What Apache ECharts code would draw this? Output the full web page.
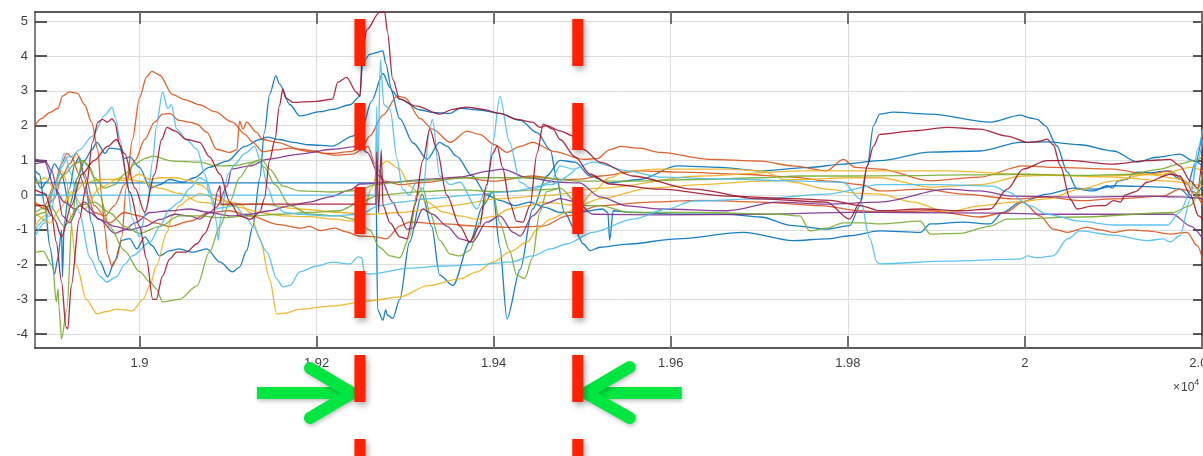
<!DOCTYPE html>
<html><head><meta charset="utf-8">
<script src="https://cdn.jsdelivr.net/npm/echarts@6/dist/echarts.min.js"></script>
<style>html,body{margin:0;padding:0;background:#fff;overflow:hidden}#c{width:1203px;height:456px}</style>
</head><body><div id="c"></div>
<script>
const xTicks = [19000,19200,19400,19600,19800,20000,20200];
const yTicks = [-4,-3,-2,-1,0,1,2,3,4,5];
const markerX = [19249, 19495];

const blueA = [[18882,0.7],[18887,0.6],[18893,-0.3],[18899,-1.5],[18904,-2.27],[18908,-1.8],[18912,-1.0],[18913,-2.35],[18915,-0.8],[18921,0.2],[18927,0.9],[18932,1.1],[18938,0.5],[18946,-0.8],[18955,-1.9],[18964,-2.35],[18972,-1.9],[18980,-1.3],[18989,-1.25],[18997,-1.55],[19006,-1.2],[19014,-1.45],[19023,-1.75],[19034,-1.6],[19045,-1.55],[19060,-1.64],[19076,-1.55],[19091,-1.93],[19105,-2.21],[19113,-2.07],[19121,-1.6],[19128,-0.9],[19136,0.5],[19141,1.8],[19147,2.9],[19154,3.43],[19158,3.2],[19170,2.6],[19181,2.28],[19204,2.4],[19218,2.47],[19238,2.6],[19249,2.85],[19252,3.8],[19260,4.05],[19275,4.15],[19278,3.8],[19285,3.0],[19294,2.76],[19317,2.45],[19331,2.38],[19351,2.35],[19362,2.5],[19384,2.45],[19407,2.35],[19430,2.15],[19449,1.8],[19464,1.3],[19471,0.5],[19480,-0.5],[19492,-1.0],[19501,-1.4],[19509,-1.6],[19520,-1.5],[19551,-1.41],[19607,-1.26],[19682,-1.07],[19738,-1.31],[19776,-1.26],[19802,-1.17],[19836,-1.03],[19882,-1.07],[19893,-0.83],[19930,-0.78],[19961,-0.83],[19975,-0.5],[19995,-0.2],[20025,0.03],[20055,0.2],[20082,0.17],[20100,0.27],[20156,0.23],[20175,0.17],[20189,-0.1],[20201,0.3]];
const blueB = [[18882,0.35],[19267,0.35],[19269,-3.3],[19275,-3.6],[19278,-3.3],[19280,-3.45],[19286,-3.55],[19294,-3.0],[19305,-1.35],[19319,0.03],[19330,-0.9],[19339,-2.3],[19354,-2.6],[19373,-1.35],[19388,-0.3],[19399,0.09],[19407,-1.5],[19415,-3.56],[19430,-2.13],[19444,-0.4],[19460,0.55],[19475,1.0],[19492,0.95],[19509,0.55],[19531,0.35],[19565,0.45],[19607,0.84],[19656,0.8],[19701,0.7],[19757,0.8],[19795,0.89],[19836,0.99],[19893,1.24],[19949,1.27],[19995,1.52],[20025,1.53],[20062,1.45],[20100,1.27],[20127,0.95],[20149,1.09],[20175,1.18],[20189,1.0],[20201,0.84]];
const blueC = [[18882,0.55],[18889,0.2],[18896,0.4],[18904,0.9],[18912,0.6],[18921,-0.3],[18930,0.5],[18938,1.0],[18946,1.3],[18952,1.52],[18961,1.2],[18966,1.35],[18978,1.32],[18983,1.05],[18989,1.1],[19000,0.8],[19012,0.2],[19023,0.3],[19034,0.45],[19049,0.37],[19062,0.5],[19079,0.8],[19099,0.98],[19119,1.4],[19136,1.6],[19144,1.67],[19158,1.6],[19173,1.52],[19192,1.45],[19218,1.41],[19241,1.7],[19252,1.98],[19262,2.7],[19275,3.5],[19283,3.1],[19294,2.2],[19309,1.5],[19325,1.03],[19339,1.52],[19347,1.41],[19358,1.12],[19376,0.55],[19392,0.0],[19407,-0.15],[19424,-0.3],[19441,-0.2],[19458,-0.35],[19475,-0.5],[19497,-0.49],[19523,-0.4],[19529,-0.5],[19531,-1.3],[19535,-0.45],[19551,-0.49],[19607,-0.55],[19664,-0.55],[19701,-0.63],[19738,-0.88],[19776,-0.98],[19802,-0.88],[19814,-0.3],[19822,0.84],[19829,2.0],[19836,2.33],[19851,2.39],[19893,2.33],[19961,2.1],[19995,2.3],[20006,2.22],[20014,2.18],[20023,2.0],[20036,1.42],[20048,0.66],[20059,0.17],[20077,0.12],[20093,0.27],[20099,0.2],[20105,0.4],[20116,0.46],[20121,0.6],[20127,0.66],[20142,0.65],[20161,0.7],[20175,0.46],[20184,0.3],[20192,0.9],[20201,1.9]];
const orangeA = [[18882,2.0],[18889,2.2],[18899,2.38],[18908,2.5],[18913,2.85],[18921,2.97],[18930,2.93],[18938,2.6],[18946,2.1],[18953,1.3],[18957,0.0],[18961,-1.0],[18964,-1.7],[18969,-2.05],[18974,-1.85],[18980,-1.2],[18985,0.2],[18992,1.6],[19000,2.8],[19008,3.4],[19014,3.56],[19023,3.45],[19037,2.9],[19051,2.75],[19068,2.6],[19085,2.4],[19105,2.1],[19119,1.75],[19128,1.52],[19139,1.25],[19153,1.3],[19170,1.35],[19192,1.25],[19215,1.2],[19238,1.25],[19251,1.35],[19260,1.7],[19275,2.3],[19291,2.85],[19300,2.8],[19317,2.2],[19331,1.9],[19351,1.52],[19370,1.84],[19384,1.75],[19401,1.45],[19415,1.23],[19430,1.4],[19444,1.52],[19469,1.25],[19501,1.03],[19517,1.05],[19531,1.3],[19543,1.4],[19565,1.35],[19588,1.23],[19644,1.03],[19701,0.98],[19738,0.84],[19776,0.7],[19795,1.03],[19808,0.8],[19836,0.75],[19893,0.41],[19949,0.52],[19998,0.84],[20032,0.8],[20100,0.75],[20138,0.6],[20164,0.7],[20181,0.4],[20192,0.0],[20201,-0.3]];
const orangeB = [[18882,-0.2],[18893,-0.4],[18904,-0.1],[18912,0.5],[18921,0.9],[18929,1.2],[18938,0.6],[18949,-0.3],[18966,-0.8],[18983,-0.5],[19000,-0.6],[19017,-0.8],[19034,-0.9],[19057,-0.75],[19079,-0.5],[19102,-0.45],[19125,-0.6],[19158,-0.85],[19181,-0.95],[19192,-0.9],[19204,-1.02],[19221,-0.95],[19232,-1.05],[19249,-1.18],[19266,-1.2],[19279,-1.26],[19294,-0.89],[19305,-0.78],[19343,-0.83],[19381,-0.89],[19418,-0.93],[19456,-0.89],[19483,-0.6],[19520,-0.3],[19577,-0.2],[19633,-0.15],[19701,-0.2],[19769,-0.3],[19814,-0.45],[19836,-0.49],[19893,-0.45],[19949,-0.63],[19978,-0.5],[19998,-0.2],[20017,-0.6],[20032,-0.98],[20048,-1.07],[20070,-0.93],[20085,-1.0],[20100,-1.07],[20119,-1.0],[20138,-1.03],[20164,-1.12],[20183,-1.07],[20195,-1.46],[20201,-1.9]];
const orangeC = [[18882,-0.25],[18893,-0.3],[18904,0.3],[18912,0.9],[18918,1.2],[18923,1.1],[18932,0.6],[18941,0.0],[18949,-0.5],[18961,-0.6],[18972,-0.3],[18983,0.3],[18995,1.0],[19006,1.6],[19017,2.1],[19026,2.33],[19034,2.35],[19045,2.15],[19057,2.1],[19065,2.04],[19076,1.81],[19087,1.32],[19102,1.23],[19110,1.3],[19113,2.13],[19117,1.9],[19121,2.1],[19132,1.81],[19139,1.6],[19155,1.52],[19181,1.32],[19200,1.27],[19207,1.2],[19221,1.15],[19241,1.18],[19251,1.3],[19258,1.4],[19266,0.9],[19277,0.4],[19294,0.3],[19325,0.37],[19362,0.52],[19399,0.4],[19444,0.55],[19475,0.45],[19497,0.46],[19520,0.55],[19565,0.7],[19610,0.66],[19678,0.6],[19738,0.52],[19780,0.4],[19814,0.3],[19836,0.12],[19885,0.17],[19930,0.03],[19987,-0.11],[20025,-0.06],[20062,-0.16],[20100,-0.11],[20156,-0.03],[20175,0.17],[20190,0.1],[20201,-0.2]];
const yellowA = [[18882,-0.9],[18893,-0.6],[18904,0.3],[18912,0.7],[18918,0.4],[18921,-0.5],[18929,-2.04],[18940,-3.0],[18952,-3.42],[18963,-3.35],[18974,-3.28],[18992,-3.33],[19004,-3.0],[19012,-2.6],[19019,-2.04],[19031,-1.07],[19037,-0.6],[19045,-0.3],[19057,-0.1],[19068,0.05],[19091,-0.15],[19113,-0.35],[19136,-0.5],[19162,-0.6],[19192,-0.62],[19218,-0.69],[19243,-0.75],[19254,-0.4],[19262,0.2],[19271,0.84],[19279,0.98],[19294,0.75],[19305,0.26],[19325,-0.2],[19343,-0.49],[19362,-0.6],[19381,-0.69],[19399,-0.62],[19418,-0.4],[19438,-0.31],[19456,-0.2],[19497,-0.3],[19520,-0.1],[19577,0.2],[19633,0.3],[19701,0.4],[19746,0.45],[19802,0.5],[19836,0.5],[19893,0.23],[19949,0.3],[19998,0.55],[20025,0.57],[20100,0.52],[20156,0.41],[20201,0.26]];
const yellowB = [[18882,0.3],[18893,0.5],[18904,0.2],[18915,-0.2],[18927,0.1],[18938,0.35],[18955,0.45],[18972,0.45],[18985,0.42],[19000,0.6],[19012,0.45],[19023,0.5],[19040,0.5],[19057,0.42],[19068,0.3],[19085,0.0],[19102,-0.2],[19113,-0.25],[19125,-0.5],[19136,-1.26],[19147,-2.41],[19155,-3.42],[19164,-3.4],[19181,-3.28],[19218,-3.19],[19257,-3.05],[19294,-2.93],[19325,-2.61],[19362,-2.41],[19381,-2.21],[19399,-1.93],[19418,-1.64],[19438,-1.35],[19449,-0.98],[19464,-0.69],[19483,-0.49],[19497,-0.3],[19512,0.09],[19531,0.5],[19551,0.7],[19588,0.75],[19664,0.75],[19701,0.7],[19738,0.37],[19776,0.17],[19814,0.05],[19836,0.03],[19874,-0.2],[19912,-0.49],[19949,-0.31],[19987,-0.2],[20025,-0.11],[20062,0.17],[20100,0.41],[20138,0.6],[20175,0.46],[20192,0.2],[20201,-0.11]];
const yellowC = [[18882,-0.5],[18899,-0.8],[18910,-0.4],[18923,0.1],[18938,-0.4],[18955,0.2],[18978,0.5],[19000,0.4],[19023,0.2],[19045,0.05],[19068,-0.2],[19102,-0.3],[19136,-0.25],[19181,-0.4],[19226,-0.5],[19260,-0.55],[19294,-0.5],[19351,-0.3],[19407,-0.1],[19464,0.0],[19520,0.2],[19633,0.55],[19746,0.7],[19836,0.7],[19916,0.7],[19995,0.6],[20085,0.55],[20153,0.6],[20187,0.8],[20201,0.7]];
const purpleA = [[18882,1.03],[18893,1.0],[18901,0.7],[18908,0.0],[18913,-0.6],[18921,-0.8],[18932,-0.3],[18944,-0.5],[18955,-0.7],[18972,-0.9],[18989,-1.0],[19006,-0.9],[19023,-0.7],[19040,-0.55],[19057,-0.6],[19068,-0.69],[19079,-0.5],[19087,-0.35],[19099,0.26],[19104,0.75],[19125,0.84],[19144,1.03],[19181,1.18],[19218,1.32],[19249,1.41],[19257,1.23],[19271,0.55],[19286,-0.2],[19294,-0.6],[19302,-0.98],[19309,-0.95],[19320,-0.4],[19331,-0.55],[19347,-0.89],[19362,-1.26],[19376,-1.35],[19392,-0.78],[19407,-0.6],[19422,-1.07],[19430,-1.18],[19444,-0.6],[19458,-0.25],[19475,-0.1],[19494,-0.2],[19512,-0.55],[19588,-0.57],[19701,-0.55],[19814,-0.49],[19859,-0.5],[19972,-0.52],[20025,-0.55],[20085,-0.55],[20167,-0.55],[20187,-0.89],[20201,-1.26]];
const purpleB = [[18882,0.9],[18893,0.95],[18904,0.2],[18915,-0.2],[18927,-0.4],[18938,-0.2],[18955,-0.7],[18972,-1.1],[18983,-1.0],[18995,-0.8],[19012,-0.5],[19034,-0.45],[19057,-0.4],[19079,-0.5],[19102,-0.6],[19125,-0.55],[19147,-0.45],[19170,-0.3],[19192,-0.2],[19215,-0.05],[19238,0.15],[19249,0.32],[19286,0.37],[19325,0.46],[19362,0.52],[19396,0.7],[19410,0.75],[19438,0.5],[19475,0.37],[19497,0.35],[19520,-0.05],[19551,-0.31],[19588,-0.4],[19664,-0.45],[19720,-0.2],[19776,-0.26],[19836,-0.2],[19912,0.17],[19949,0.12],[19987,-0.03],[20062,-0.06],[20138,-0.03],[20175,-0.05],[20201,-0.1]];
const greenA = [[18882,-1.65],[18891,-1.61],[18902,-2.04],[18906,-3.07],[18908,-2.7],[18909,-3.2],[18912,-4.14],[18918,-3.28],[18924,-0.69],[18930,0.5],[18936,1.0],[18941,0.9],[18949,0.5],[18961,0.2],[18972,0.3],[18983,0.6],[18995,0.9],[19006,1.05],[19015,1.12],[19037,0.98],[19068,0.95],[19087,0.84],[19108,0.85],[19128,0.95],[19138,1.03],[19147,0.75],[19162,0.26],[19181,0.12],[19218,0.09],[19241,0.12],[19254,0.2],[19266,0.3],[19283,0.35],[19305,0.4],[19339,0.45],[19373,0.5],[19407,0.5],[19452,0.5],[19497,0.4],[19543,0.4],[19633,0.45],[19701,0.5],[19746,0.55],[19802,0.55],[19859,0.56],[19927,0.58],[19995,0.6],[20062,0.57],[20119,0.6],[20153,0.75],[20175,0.9],[20192,1.0],[20201,1.1]];
const greenB = [[18882,-0.6],[18893,-0.5],[18904,0.2],[18915,0.6],[18927,0.9],[18935,1.0],[18944,0.8],[18955,0.0],[18966,-0.9],[18983,-1.6],[19000,-2.2],[19012,-2.5],[19019,-2.7],[19026,-3.07],[19045,-3.0],[19065,-2.61],[19079,-1.64],[19091,-0.89],[19102,-0.2],[19113,0.5],[19125,0.9],[19134,1.0],[19141,0.8],[19153,0.3],[19170,-0.3],[19192,-0.55],[19226,-0.6],[19243,-0.7],[19260,-1.0],[19271,-1.5],[19283,-1.75],[19294,-1.8],[19305,-1.2],[19313,0.0],[19320,0.2],[19328,-0.5],[19339,-1.3],[19351,-1.7],[19362,-1.75],[19373,-1.6],[19384,-0.8],[19392,0.0],[19399,0.1],[19407,-0.8],[19418,-1.6],[19426,-2.3],[19435,-2.4],[19444,-1.8],[19452,-0.5],[19460,0.1],[19475,0.2],[19497,-0.3],[19520,-0.3],[19554,-0.5],[19633,-0.5],[19723,-0.55],[19746,-0.6],[19757,-1.03],[19776,-0.95],[19795,-0.8],[19817,-0.8],[19836,-0.83],[19882,-0.75],[19893,-1.12],[19927,-1.1],[19961,-0.89],[19980,-0.69],[20062,-0.63],[20167,-0.5],[20187,-0.3],[20201,0.6]];
const greenC = [[18882,-0.5],[18899,-0.3],[18915,-0.9],[18932,-0.3],[18949,-0.2],[18966,-0.5],[18983,-0.9],[19000,-1.1],[19023,-0.9],[19045,-0.6],[19068,-0.6],[19091,-0.65],[19125,-0.6],[19158,-0.55],[19192,-0.5],[19226,-0.45],[19249,-0.2],[19271,0.0],[19317,0.1],[19362,0.15],[19407,0.1],[19452,0.15],[19475,0.2]];
const lblueA = [[18882,0],[19266,0],[19268,2.55],[19269,0.3],[19272,3.9],[19276,2.6],[19283,2.47],[19291,1.03],[19297,0.17],[19305,0],[19313,0.4],[19320,0.1],[19328,1.98],[19331,2.18],[19339,0.55],[19351,0.3],[19362,0.37],[19381,-0.4],[19392,0.2],[19399,1.5],[19407,2.84],[19418,1.52],[19430,0.37],[19444,0.17],[19464,0.37],[19475,0.84],[19490,0.75],[19512,0.95],[19551,0.7],[19588,0.52],[19664,0.46],[19738,0.41],[19795,0.37],[19814,-0.11],[19825,-1.26],[19833,-1.93],[19836,-1.98],[19912,-1.9],[19995,-1.84],[20003,-1.75],[20014,-1.8],[20032,-1.75],[20048,-1.26],[20062,-1.03],[20100,-1.15],[20138,-1.31],[20156,-1.26],[20164,-1.35],[20175,-1.17],[20187,-0.11],[20195,1.32],[20201,1.9]];
const lblueB = [[18882,-1.2],[18893,-0.8],[18904,0.2],[18912,0.8],[18919,1.1],[18924,1.12],[18932,1.3],[18947,1.7],[18961,2.3],[18969,2.53],[18973,2.2],[18978,1.6],[18985,0.55],[18992,-0.69],[19000,-1.2],[19008,-0.4],[19015,1.0],[19019,1.98],[19026,2.96],[19032,2.5],[19036,2.6],[19042,1.9],[19053,1.6],[19065,1.32],[19074,0.6],[19079,0.0],[19085,-0.4],[19096,-0.35],[19108,-0.3],[19119,-0.6],[19128,-0.89],[19144,-1.64],[19155,-2.41],[19162,-2.64],[19170,-2.6],[19181,-2.21],[19200,-2.04],[19218,-1.93],[19238,-1.98],[19247,-1.78],[19251,-1.8],[19254,-2.25],[19260,-2.27],[19305,-2.1],[19343,-2.04],[19384,-2.0],[19418,-1.93],[19444,-1.75],[19464,-1.55],[19483,-1.4],[19512,-1.07],[19557,-0.69],[19596,-0.4],[19625,-0.17],[19701,-0.11],[19776,0.03],[19836,0.3],[19904,0.3],[19964,0.26],[19980,0.1],[20006,-0.31],[20025,-0.55],[20062,-0.75],[20100,-0.86],[20161,-0.86],[20175,-0.49],[20187,0.1],[20195,1.0],[20201,1.6]];
const lblueC = [[18882,-1.0],[18899,-0.6],[18908,0.5],[18915,1.2],[18923,0.6],[18932,-0.5],[18944,-1.8],[18955,-2.33],[18963,-2.5],[18974,-2.35],[18983,-2.0],[18992,-1.75],[19012,-1.35],[19023,-0.9],[19034,-0.4],[19045,-0.2],[19057,0.2],[19068,0.5],[19076,0.4],[19083,-0.1],[19087,-0.8],[19089,-1.3],[19092,-0.6],[19100,0.6],[19108,0.9],[19119,1.2],[19130,1.4],[19138,0.9],[19145,0.2],[19153,-0.3],[19164,-0.5],[19181,-0.55],[19215,-0.6],[19249,-0.55],[19271,-0.3],[19294,-0.2],[19328,-0.1],[19373,0.0],[19418,0.1],[19464,0.3],[19492,0.72]];
const redA = [[18882,-0.3],[18893,-0.3],[18901,-0.6],[18906,-1.35],[18912,-2.5],[18917,-3.8],[18919,-3.85],[18923,-2.6],[18932,-0.69],[18940,0.26],[18947,1.52],[18953,2.1],[18958,2.18],[18964,2.1],[18969,2.2],[18972,2.1],[18978,1.41],[18989,0.09],[19000,-0.89],[19008,-1.84],[19015,-3.0],[19019,-3.0],[19026,-2.33],[19034,-1.84],[19042,-1.64],[19053,-1.64],[19065,-1.4],[19074,-1.1],[19083,-0.6],[19088,0.1],[19091,0.27],[19092,-0.26],[19267,-0.26],[19268,1.25],[19270,-0.5],[19273,1.3],[19275,-0.3],[19283,-0.8],[19294,-1.2],[19302,-1.26],[19311,-0.3],[19320,1.0],[19328,1.9],[19336,1.3],[19347,0.0],[19362,-0.9],[19373,-1.35],[19384,-0.9],[19392,0.3],[19399,1.2],[19404,1.41],[19410,0.8],[19418,-0.2],[19426,-0.75],[19433,-0.78],[19441,-0.3],[19449,1.2],[19456,2.04],[19467,1.9],[19475,1.6],[19492,1.1],[19509,0.6],[19531,0.32],[19588,0.17],[19664,-0.03],[19738,-0.1],[19780,-0.15],[19814,-0.3],[19836,-0.45],[19885,-0.4],[19927,-0.45],[19961,-0.4],[19980,0.17],[19998,0.75],[20025,0.99],[20048,1.0],[20100,0.89],[20138,0.99],[20164,1.03],[20175,0.84],[20187,0.4],[20195,0.2],[20201,1.3]];
const redB = [[18882,0.15],[18893,0.05],[18904,-0.7],[18912,-1.2],[18923,-0.3],[18935,0.6],[18949,1.0],[18964,1.4],[18974,1.6],[18983,1.2],[18995,0.2],[19006,-0.5],[19017,0.6],[19025,1.6],[19031,1.95],[19040,1.85],[19053,1.6],[19068,1.52],[19079,1.1],[19091,0.6],[19102,-0.2],[19113,-0.6],[19125,-0.7],[19136,-0.49],[19141,-0.1],[19147,1.0],[19153,1.6],[19158,2.56],[19162,3.05],[19165,2.8],[19173,2.67],[19200,2.7],[19218,2.76],[19224,3.25],[19234,3.39],[19245,2.96],[19249,2.85],[19252,4.2],[19257,4.77],[19271,5.26],[19277,5.26],[19280,4.7],[19286,3.33],[19294,2.76],[19313,2.56],[19339,2.33],[19354,2.47],[19370,2.53],[19388,2.47],[19407,2.35],[19426,2.18],[19444,2.1],[19452,1.95],[19460,2.0],[19475,1.85],[19490,1.7],[19501,1.32],[19520,0.95],[19557,0.55],[19625,0.17],[19701,-0.11],[19776,-0.2],[19802,-0.69],[19814,-0.2],[19822,0.84],[19829,1.41],[19836,1.75],[19874,1.85],[19912,1.95],[19949,1.9],[19980,1.7],[20003,1.52],[20017,1.55],[20025,1.61],[20032,1.45],[20040,0.84],[20051,-0.11],[20059,-0.4],[20077,-0.31],[20091,-0.3],[20100,-0.16],[20108,-0.2],[20113,0.0],[20125,0.1],[20138,0.37],[20164,0.6],[20175,0.55],[20187,0.0],[20196,-0.6],[20201,-0.7]];

const C = {blue:'#0072BD', orange:'#D95319', yellow:'#EDB120', purple:'#7E2F8E', green:'#77AC30', lblue:'#4DBEEE', red:'#A2142F'};
const lines = [
  [blueA,C.blue],[blueB,C.blue],[blueC,C.blue],
  [orangeA,C.orange],[orangeB,C.orange],[orangeC,C.orange],
  [yellowA,C.yellow],[yellowB,C.yellow],[yellowC,C.yellow],
  [purpleA,C.purple],[purpleB,C.purple],
  [greenA,C.green],[greenB,C.green],[greenC,C.green],
  [lblueA,C.lblue],[lblueB,C.lblue],[lblueC,C.lblue],
  [redA,C.red],[redB,C.red]
];

const chart = echarts.init(document.getElementById('c'), null, {renderer:'canvas', width:1203, height:456});
const FONT = 'Liberation Sans, Arial, sans-serif';
const axisCommon = {type:'value', min:18882, max:20200};
chart.setOption({
  animation:false,
  backgroundColor:'#fff',
  grid:{left:35, top:12, width:1167, height:336, containLabel:false, outerBoundsMode:'none'},
  xAxis:[
    Object.assign({}, axisCommon, {position:'bottom',
      axisLine:{show:true, onZero:false, lineStyle:{color:'#262626', width:1.5}},
      axisTick:{show:true, inside:true, length:12, customValues:xTicks, lineStyle:{color:'#707070', width:2}},
      axisLabel:{show:true, customValues:xTicks, margin:9, color:'#404040', fontSize:13, fontFamily:FONT, hideOverlap:false, formatter:v=>String(+(v/10000).toFixed(4))},
      splitLine:{show:true, lineStyle:{color:'#dcdcdc', width:1}}}),
    Object.assign({}, axisCommon, {position:'top',
      axisLine:{show:true, onZero:false, lineStyle:{color:'#262626', width:1.5}},
      axisTick:{show:true, inside:true, length:12, customValues:xTicks, lineStyle:{color:'#707070', width:2}},
      axisLabel:{show:false}, splitLine:{show:false}})
  ],
  yAxis:[
    {type:'value', min:-4.4, max:5.27, position:'left',
      axisLine:{show:true, onZero:false, lineStyle:{color:'#808080', width:2}},
      axisTick:{show:true, inside:true, length:12, customValues:yTicks, lineStyle:{color:'#262626', width:1.5}},
      axisLabel:{show:true, customValues:yTicks, margin:7, color:'#404040', fontSize:13, fontFamily:FONT},
      splitLine:{show:true, lineStyle:{color:'#dcdcdc', width:1}}},
    {type:'value', min:-4.4, max:5.27, position:'right',
      axisLine:{show:true, onZero:false, lineStyle:{color:'#262626', width:1.5}},
      axisTick:{show:true, inside:true, length:9, customValues:yTicks, lineStyle:{color:'#262626', width:1.5}},
      axisLabel:{show:false}, splitLine:{show:false}}
  ],
  series: lines.map(([d,c],i)=>({
    type:'line', data:d, xAxisIndex:0, yAxisIndex:0, showSymbol:false, symbol:'none',
    smooth:0.3, smoothMonotone:'x', clip:true,
    lineStyle:{color:c, width:1.3, opacity:0.9}, z:2
  }))
});

// annotations: dashed red markers and green arrows
const graphics = [];
const dashTop = 19, dashLen = 47, dashPeriod = 84;
markerX.forEach(v=>{
  const cx = chart.convertToPixel({xAxisIndex:0}, v);
  for(let y=dashTop; y<456; y+=dashPeriod){
    graphics.push({type:'rect', z:100, shape:{x:cx-5.5, y:y, width:11, height:dashLen},
      style:{fill:'#ff2200', shadowBlur:6, shadowOffsetX:2, shadowOffsetY:3, shadowColor:'rgba(0,0,0,0.35)'}});
  }
});
const c1 = chart.convertToPixel({xAxisIndex:0}, markerX[0]);
const c2 = chart.convertToPixel({xAxisIndex:0}, markerX[1]);
const ay = 393;
const green = {stroke:'#00e640', lineWidth:12, lineCap:'round', lineJoin:'round', fill:null,
  shadowBlur:4, shadowOffsetX:1, shadowOffsetY:2, shadowColor:'rgba(0,0,0,0.25)'};
graphics.push({type:'polyline', z:90, shape:{points:[[c1-103,ay],[c1-8,ay]]}, style:Object.assign({},green,{lineCap:'butt'})});
graphics.push({type:'polyline', z:90, shape:{points:[[c1-50,ay-25],[c1-8,ay],[c1-50,ay+25]]}, style:green});
graphics.push({type:'polyline', z:90, shape:{points:[[c2+8,ay],[c2+104,ay]]}, style:Object.assign({},green,{lineCap:'butt'})});
graphics.push({type:'polyline', z:90, shape:{points:[[c2+52,ay-26],[c2+8,ay],[c2+52,ay+25]]}, style:green});
graphics.push({type:'text', z:50, left:1173, top:378, style:{
  text:'{a|×}{b|10}{c|4}', rich:{
    a:{fontSize:12, fill:'#404040', fontFamily:FONT, padding:[4,1,0,0]},
    b:{fontSize:12, fill:'#404040', fontFamily:FONT, padding:[4,0,0,0]},
    c:{fontSize:9, fill:'#404040', fontFamily:FONT, padding:[0,0,6,0]}}}});
chart.setOption({graphic:graphics});
</script>
</body></html>
